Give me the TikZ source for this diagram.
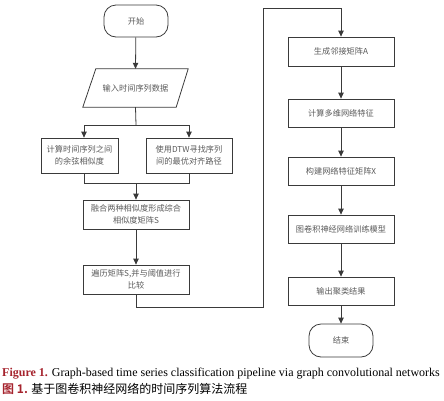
\documentclass[tikz,border=0pt]{standalone}
\usepackage{fontspec}
\setmainfont{Liberation Serif}
\newfontfamily\cjk{Noto Sans CJK SC}
\newfontfamily\cjkb{Noto Sans CJK SC}[BoldFont={Noto Sans CJK SC Bold}]
\usetikzlibrary{arrows.meta,calc}
\definecolor{linec}{HTML}{3A3A3A}
\definecolor{textc}{HTML}{5A5A5A}
\definecolor{capred}{RGB}{165,35,45}
\tikzset{
  box/.style={draw=linec, line width=0.8pt, rectangle, align=center, text=textc,
    font=\cjk\fontsize{8.2}{11.5}\selectfont, inner sep=0pt},
  term/.style={box, rounded corners=12pt},
  plain/.style={align=center, text=textc, font=\cjk\fontsize{8.2}{11.5}\selectfont, inner sep=0pt},
  conn/.style={draw=linec, line width=0.8pt},
  arr/.style={conn, -{Triangle[length=6pt,width=5.5pt]}},
}
\begin{document}
\begin{tikzpicture}[x=1pt,y=-1pt]
\useasboundingbox (0,0) rectangle (444,400);
% left column
\node[term, minimum width=64pt, minimum height=32pt] (start) at (136,21) {开始};
\node[plain, minimum width=105pt, minimum height=38pt] (in) at (135.5,88) {输入时间序列数据};
\draw[conn] ($(in.north west)+(13,0)$) -- (in.north east) -- ($(in.south east)+(-12,0)$) -- (in.south west) -- cycle;
\node[box, minimum width=77pt, minimum height=35pt] (L) at (79.5,155.5) {计算时间序列之间\\的余弦相似度};
\node[box, minimum width=86pt, minimum height=35pt] (R) at (189,155.5) {使用DTW寻找序列\\间的最优对齐路径};
\node[box, minimum width=106pt, minimum height=29pt] (F) at (136,214.5) {融合两种相似度形成综合\\相似度矩阵S};
\node[box, minimum width=106pt, minimum height=29pt] (T) at (136,279.5) {遍历矩阵S,并与阈值进行\\比较};
% right column
\node[box, minimum width=106pt, minimum height=29pt] (A) at (341,51.5) {生成邻接矩阵A};
\node[box, minimum width=106pt, minimum height=28pt] (B) at (341,113) {计算多维网络特征};
\node[box, minimum width=106pt, minimum height=28pt] (C) at (341,171) {构建网络特征矩阵X};
\node[box, minimum width=106pt, minimum height=28pt] (D) at (341,229) {图卷积神经网络训练模型};
\node[box, minimum width=106pt, minimum height=28pt] (E) at (341,291) {输出聚类结果};
\node[term, minimum width=64pt, minimum height=33pt] (end) at (341,340.5) {结束};
% coordinates
\coordinate (split) at (136,125);
\coordinate (join) at (136,183);
\coordinate (c1) at (263,307);
\coordinate (c2) at (263,8);
% connectors
\draw[arr] (start) -- (in.north);
\draw[conn] (in.south) -- (split);
\draw[arr] (split) -| ([xshift=4.5pt]L.north);
\draw[arr] (split) -| (R.north);
\draw[conn] ([xshift=4.5pt]L.south) |- (R.south |- join) -- (R.south);
\draw[arr] (join) -- (F.north);
\draw[arr] (F) -- (T);
\draw[arr] (T.south) |- (c1) -- (c2) -| (A.north);
\draw[arr] (A) -- (B);
\draw[arr] (B) -- (C);
\draw[arr] (C) -- (D);
\draw[arr] (D) -- (E);
\draw[arr] (E) -- (end);
% caption
\node[anchor=west, inner sep=0pt, font=\fontsize{12}{14}\selectfont] (cap1) at (2,374)
  {\textcolor{capred}{\textbf{Figure 1.}} Graph-based time series classification pipeline via graph convolutional networks};
\node[anchor=west, inner sep=0pt, font=\cjkb\fontsize{12}{14}\selectfont] (cap2) at (2,389)
  {\textcolor{capred}{\textbf{图 1.}} 基于图卷积神经网络的时间序列算法流程};
\end{tikzpicture}
\end{document}
